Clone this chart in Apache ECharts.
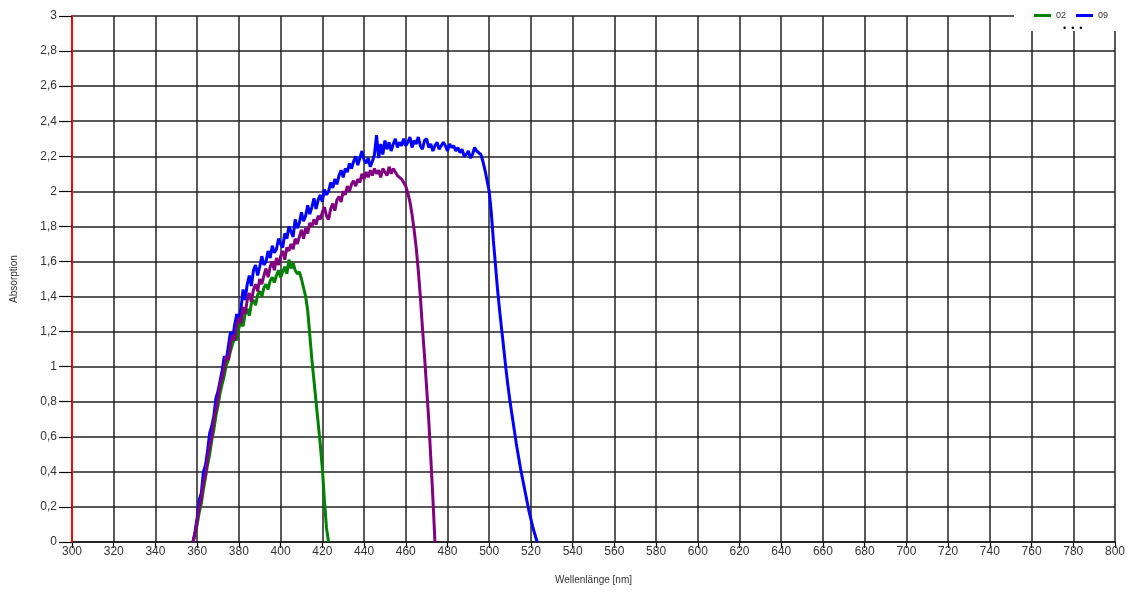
<!DOCTYPE html>
<html>
<head>
<meta charset="utf-8">
<script src="https://cdn.jsdelivr.net/npm/echarts@6/dist/echarts.min.js"></script>
<style>
  html, body { margin: 0; padding: 0; background: #fff; }
  #chart { width: 1133px; height: 594px; }
</style>
</head>
<body>
<div id="chart"></div>
<script>
// Wellenlänge [nm], 1 nm Schritte
var wavelengths = [
  358, 359, 360, 361, 362, 363, 364, 365, 366, 367, 368, 369, 370, 371, 372, 373, 374, 375, 376, 377,
  378, 379, 380, 381, 382, 383, 384, 385, 386, 387, 388, 389, 390, 391, 392, 393, 394, 395, 396, 397,
  398, 399, 400, 401, 402, 403, 404, 405, 406, 407, 408, 409, 410, 411, 412, 413, 414, 415, 416, 417,
  418, 419, 420, 421, 422, 423, 424, 425, 426, 427, 428, 429, 430, 431, 432, 433, 434, 435, 436, 437,
  438, 439, 440, 441, 442, 443, 444, 445, 446, 447, 448, 449, 450, 451, 452, 453, 454, 455, 456, 457,
  458, 459, 460, 461, 462, 463, 464, 465, 466, 467, 468, 469, 470, 471, 472, 473, 474, 475, 476, 477,
  478, 479, 480, 481, 482, 483, 484, 485, 486, 487, 488, 489, 490, 491, 492, 493, 494, 495, 496, 497,
  498, 499, 500, 501, 502, 503, 504, 505, 506, 507, 508, 509, 510, 511, 512, 513, 514, 515, 516, 517,
  518, 519, 520, 521, 522, 523
];

// Probe 02 (gruen), 358..423
var absorption02 = [
  0.00, 0.04, 0.10, 0.17, 0.22, 0.30, 0.37, 0.44, 0.50, 0.58, 0.64, 0.72, 0.78, 0.85, 0.90, 0.95, 1.01, 1.04, 1.09, 1.13,
  1.17, 1.15, 1.22, 1.26, 1.23, 1.30, 1.33, 1.29, 1.36, 1.38, 1.35, 1.41, 1.43, 1.40, 1.45, 1.47, 1.44, 1.49, 1.51, 1.48,
  1.52, 1.55, 1.51, 1.54, 1.57, 1.53, 1.61, 1.56, 1.59, 1.55, 1.53, 1.54, 1.50, 1.45, 1.40, 1.32, 1.18, 1.04, 0.92, 0.80,
  0.68, 0.56, 0.42, 0.24, 0.08, 0.00
];

// Probe 09 (blau), 358..523
var absorption09 = [
  0.00, 0.06, 0.14, 0.24, 0.28, 0.40, 0.44, 0.52, 0.62, 0.66, 0.72, 0.82, 0.86, 0.92, 0.98, 1.06, 1.04, 1.12, 1.20, 1.16,
  1.24, 1.30, 1.27, 1.33, 1.44, 1.38, 1.47, 1.52, 1.46, 1.55, 1.58, 1.52, 1.57, 1.63, 1.58, 1.60, 1.66, 1.62, 1.69, 1.65,
  1.67, 1.73, 1.70, 1.68, 1.76, 1.73, 1.80, 1.77, 1.74, 1.84, 1.79, 1.82, 1.88, 1.83, 1.86, 1.92, 1.87, 1.91, 1.96, 1.90,
  1.95, 1.98, 1.94, 2.01, 1.98, 2.00, 2.05, 2.02, 2.07, 2.04, 2.09, 2.12, 2.08, 2.13, 2.11, 2.16, 2.13, 2.17, 2.20, 2.15,
  2.19, 2.23, 2.18, 2.16, 2.19, 2.14, 2.17, 2.21, 2.32, 2.19, 2.27, 2.21, 2.29, 2.24, 2.28, 2.23, 2.27, 2.30, 2.25, 2.28,
  2.26, 2.30, 2.26, 2.28, 2.31, 2.25, 2.29, 2.27, 2.31, 2.26, 2.24, 2.29, 2.30, 2.25, 2.27, 2.23, 2.26, 2.28, 2.24, 2.26,
  2.28, 2.26, 2.23, 2.27, 2.25, 2.26, 2.23, 2.25, 2.22, 2.24, 2.20, 2.21, 2.23, 2.19, 2.21, 2.25, 2.23, 2.22, 2.21, 2.17,
  2.12, 2.06, 2.00, 1.88, 1.72, 1.58, 1.44, 1.32, 1.21, 1.10, 0.99, 0.89, 0.80, 0.72, 0.64, 0.56, 0.49, 0.42, 0.36, 0.30,
  0.24, 0.18, 0.13, 0.08, 0.04, 0.00
];

// dritte Probe (violett, nicht in der Legende), 358..474
var absorptionViolet = [
  0.00, 0.05, 0.12, 0.20, 0.25, 0.34, 0.38, 0.48, 0.55, 0.60, 0.70, 0.75, 0.82, 0.90, 0.94, 1.00, 1.06, 1.04, 1.14, 1.18,
  1.15, 1.24, 1.28, 1.25, 1.34, 1.30, 1.38, 1.42, 1.37, 1.44, 1.47, 1.43, 1.50, 1.47, 1.52, 1.56, 1.51, 1.57, 1.60, 1.55,
  1.62, 1.58, 1.63, 1.66, 1.61, 1.68, 1.66, 1.70, 1.67, 1.73, 1.70, 1.74, 1.78, 1.73, 1.79, 1.76, 1.82, 1.80, 1.84, 1.81,
  1.86, 1.84, 1.88, 1.91, 1.86, 1.84, 1.90, 1.93, 1.89, 1.95, 1.97, 1.94, 2.00, 1.98, 2.03, 2.00, 2.04, 2.06, 2.03, 2.07,
  2.05, 2.10, 2.07, 2.11, 2.08, 2.12, 2.09, 2.13, 2.10, 2.12, 2.08, 2.13, 2.11, 2.09, 2.14, 2.10, 2.13, 2.11, 2.09, 2.08,
  2.07, 2.05, 2.03, 1.99, 1.94, 1.87, 1.78, 1.68, 1.55, 1.40, 1.22, 1.06, 0.88, 0.70, 0.48, 0.25, 0.00
];

function zip(values) {
    var out = [];
    for (var i = 0; i < values.length; i++) {
        out.push([wavelengths[i], values[i]]);
    }
    return out;
}

var textColor = '#333';
var gridColor = '#222';
var font = 'Liberation Sans, Arial, sans-serif';

var option = {
    animation: false,
    backgroundColor: '#fff',
    textStyle: { fontFamily: font },
    grid: { left: 72, right: 18, top: 16, bottom: 52 },
    legend: {
        data: ['02', '09'],
        left: 1034,
        top: 11,
        padding: 0,
        itemGap: 10,
        itemWidth: 17,
        itemHeight: 3,
        icon: 'rect',
        z: 110,
        textStyle: { fontSize: 9, color: textColor, fontFamily: font }
    },
    graphic: [
        { type: 'rect', z: 100, shape: { x: 1014, y: 0, width: 119, height: 31 }, style: { fill: '#fff' } },
        { type: 'text', z: 110, left: 1063, top: 24, style: { text: '•  •  •', fontSize: 9, fill: '#000', fontFamily: font } }
    ],
    xAxis: {
        type: 'value',
        min: 300,
        max: 800,
        interval: 20,
        name: 'Wellenlänge [nm]',
        nameLocation: 'middle',
        nameGap: 33,
        nameTextStyle: { fontSize: 10, color: textColor },
        axisLine: { show: true, lineStyle: { color: '#000', width: 1.5 } },
        axisTick: { show: true, length: 6, lineStyle: { color: '#000', width: 1.2 } },
        axisLabel: { fontSize: 12, color: textColor, margin: 4 },
        splitLine: { show: true, lineStyle: { color: gridColor, width: 1.5 } }
    },
    yAxis: {
        type: 'value',
        min: 0,
        max: 3,
        interval: 0.2,
        z: 3,
        name: 'Absorption',
        nameLocation: 'middle',
        nameGap: 53,
        nameTextStyle: { fontSize: 10, color: textColor },
        axisLine: { show: true, lineStyle: { color: '#ff0000', width: 2 } },
        axisTick: { show: true, length: 13, lineStyle: { color: '#000', width: 1.2 } },
        axisLabel: {
            fontSize: 12,
            color: textColor,
            margin: 15,
            formatter: function (v) { return String(Number(v.toFixed(1))).replace('.', ','); }
        },
        splitLine: { show: true, lineStyle: { color: gridColor, width: 1.5 } }
    },
    series: [
        {
            name: '02', type: 'line', data: zip(absorption02), showSymbol: false,
            color: '#008000', lineStyle: { width: 3, color: '#008000' }
        },
        {
            name: '09', type: 'line', data: zip(absorption09), showSymbol: false,
            color: '#0000ff', lineStyle: { width: 3, color: '#0000ff' }
        },
        {
            name: '05', type: 'line', data: zip(absorptionViolet), showSymbol: false,
            color: '#800080', lineStyle: { width: 3, color: '#800080' }
        }
    ]
};

var myChart = echarts.init(document.getElementById('chart'));
myChart.setOption(option);
</script>
</body>
</html>
